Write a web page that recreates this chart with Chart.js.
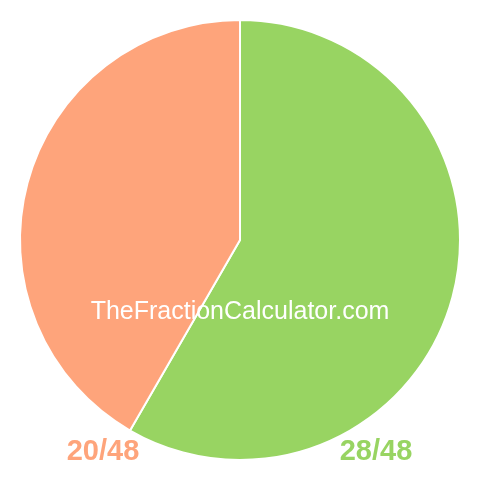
<!DOCTYPE html>
<html>
<head>
<meta charset="utf-8">
<script src="https://cdn.jsdelivr.net/npm/chart.js"></script>
<style>
  html, body { margin: 0; padding: 0; background: #fff; }
  #wrap { width: 480px; height: 480px; position: relative; }
</style>
</head>
<body>
<div id="wrap"><canvas id="pie-chart" width="480" height="480"></canvas></div>
<script>
// Fraction data
var categories = ['28/48', '20/48'];
var sliceValues = [28, 20];
var sliceColors = ['#98d462', '#fea47b'];

// draws the watermark and the fraction labels under the pie
var labelPlugin = {
    id: 'fractionLabels',
    afterDraw: function (chart) {
        var ctx = chart.ctx;
        ctx.save();
        ctx.textAlign = 'center';
        ctx.textBaseline = 'alphabetic';

        ctx.fillStyle = '#ffffff';
        ctx.font = '25px "Liberation Sans", Arial, sans-serif';
        ctx.fillText('TheFractionCalculator.com', 240, 319);

        ctx.font = 'bold 29px "Liberation Sans", Arial, sans-serif';
        ctx.fillStyle = sliceColors[1];
        ctx.fillText(categories[1], 103, 460);
        ctx.fillStyle = sliceColors[0];
        ctx.fillText(categories[0], 376, 460);
        ctx.restore();
    }
};

var pieChart = new Chart(document.getElementById('pie-chart'), {
    type: 'pie',
    data: {
        labels: categories,
        datasets: [{
            data: sliceValues,
            backgroundColor: sliceColors,
            borderColor: '#ffffff',
            borderWidth: 2
        }]
    },
    options: {
        responsive: false,
        animation: false,
        layout: { padding: 19 },
        plugins: {
            legend: { display: false },
            tooltip: { enabled: false }
        }
    },
    plugins: [labelPlugin]
});
</script>
</body>
</html>
